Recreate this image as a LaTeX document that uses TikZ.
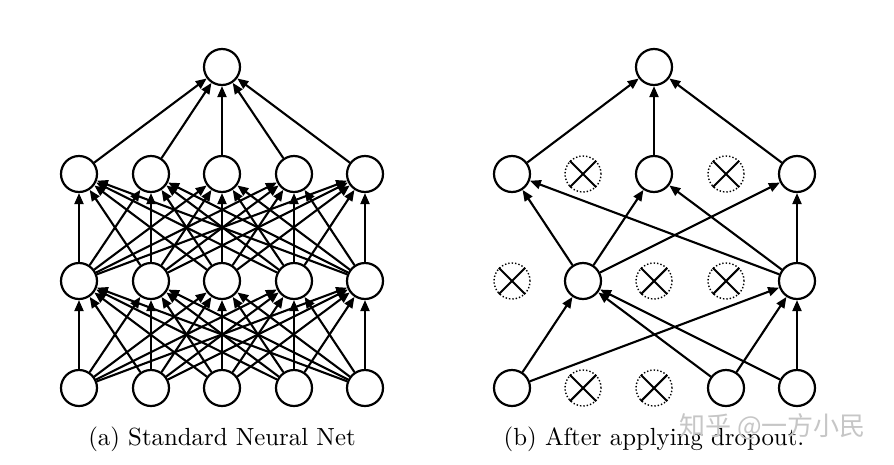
\documentclass[tikz,border=0pt]{standalone}
\usepackage{fontspec}
\newfontfamily\cjk{Noto Sans CJK SC}
\newfontfamily\capfont{lmroman10-regular.otf}
\usetikzlibrary{arrows.meta}
\begin{document}
\begin{tikzpicture}[x=1pt,y=-1pt,
  neuron/.style={circle,draw,line width=2.2pt,minimum size=36pt,inner sep=0pt,fill=white},
  dropped/.style={circle,draw,dotted,line width=1.4pt,minimum size=36pt,inner sep=0pt},
  cross/.style={line width=2.1pt},
  conn/.style={line width=2.1pt,-{Triangle[length=11pt,width=9pt]}},
  captext/.style={font=\capfont\fontsize{24.8}{30}\selectfont,anchor=base,inner sep=0pt}]
\useasboundingbox[fill=white] (0,0) rectangle (894,464);
% ---------- (a) standard network ----------
\foreach \i/\x in {1/79,2/151,3/222,4/294,5/365} {
  \node[neuron] (a1\i) at (\x,388) {};
  \node[neuron] (a2\i) at (\x,281) {};
  \node[neuron] (a3\i) at (\x,174) {};
}
\node[neuron] (a4) at (222,67) {};
\foreach \i in {1,...,5} {
  \foreach \j in {1,...,5} {
    \draw[conn] (a1\i) -- (a2\j);
    \draw[conn] (a2\i) -- (a3\j);
  }
  \draw[conn] (a3\i) -- (a4);
}
% ---------- (b) after dropout ----------
% row 1 (inputs)
\node[neuron]  (b11) at (512,388) {};
\node[dropped] (b12) at (583,388) {};
\node[dropped] (b13) at (654,388) {};
\node[neuron]  (b14) at (726,388) {};
\node[neuron]  (b15) at (797,388) {};
% row 2
\node[dropped] (b21) at (512,281) {};
\node[neuron]  (b22) at (583,281) {};
\node[dropped] (b23) at (654,281) {};
\node[dropped] (b24) at (726,281) {};
\node[neuron]  (b25) at (797,281) {};
% row 3
\node[neuron]  (b31) at (512,174) {};
\node[dropped] (b32) at (583,174) {};
\node[neuron]  (b33) at (654,174) {};
\node[dropped] (b34) at (726,174) {};
\node[neuron]  (b35) at (797,174) {};
% output
\node[neuron]  (b4) at (654,67) {};
% crosses on dropped units
\foreach \n in {b12,b13,b21,b23,b24,b32,b34} {
  \draw[cross] (\n.45) -- (\n.225);
  \draw[cross] (\n.135) -- (\n.315);
}
% connections
\foreach \s/\t in {b11/b22,b11/b25,b14/b22,b14/b25,b15/b22,b15/b25,
                   b22/b31,b22/b33,b22/b35,b25/b31,b25/b33,b25/b35,
                   b31/b4,b33/b4,b35/b4}
  \draw[conn] (\s) -- (\t);
% ---------- captions ----------
\node[captext] (capa) at (222,445) {(a) Standard Neural Net};
\node[captext] (capb) at (654,445) {(b) After applying dropout.};
\node[text=gray!45,font=\cjk\fontsize{26}{30}\selectfont,anchor=west,inner sep=0pt] (wm) at (679,427) {知乎 @一方小民};
\end{tikzpicture}
\end{document}
